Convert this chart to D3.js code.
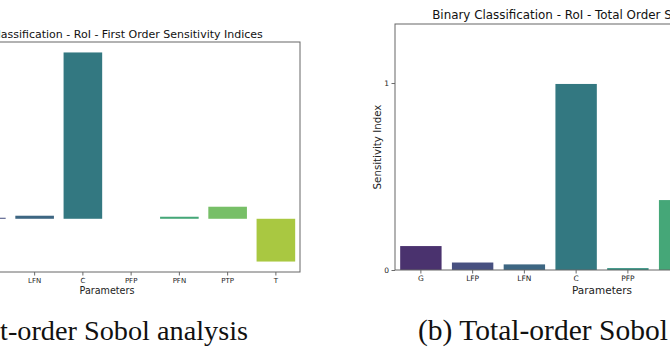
<!DOCTYPE html>
<html><head><meta charset="utf-8">
<script src="https://cdn.jsdelivr.net/npm/d3@7/dist/d3.min.js"></script>
<style>body{margin:0;background:#fff}svg{display:block}</style>
</head><body>
<svg id="c" width="670" height="360"></svg>
<script>
const categories = ["G","LFP","LFN","C","PFP","PFN","PTP","T"];
const firstOrder = [0.05, 0.006, 0.018, 0.98, 0.0, 0.012, 0.071, -0.252];
const totalOrder = [0.128, 0.04, 0.03, 0.995, 0.01, 0.374, 0.30, 1.253];
const totalTicks = [0, 1];
const titles = ["Binary Classification - RoI - First Order Sensitivity Indices",
                "Binary Classification - RoI - Total Order Sensitivity Indices"];
const captions = ["(a) First-order Sobol analysis", "(b) Total-order Sobol analysis"];

const svg = d3.select("#c");
const base = d3.range(8).map(i => d3.interpolateViridis((i + 1) / 9));
const colors = base.map(c => { const h = d3.hsl(c); h.s *= 0.75; return h.formatHex(); });
const spine = "#666";
const sans = "DejaVu Sans";

function fit(sel, target) {
  const fs = parseFloat(sel.attr("font-size"));
  const w = sel.node().getComputedTextLength();
  sel.attr("font-size", fs * target / w);
}
function measure(str, family, fs) {
  const p = svg.append("text").text(str).attr("font-family", family).attr("font-size", fs);
  const w = p.node().getComputedTextLength();
  p.remove();
  return w;
}

function panel(o) {
  const g = svg.append("g");
  const x = d3.scaleBand().domain(categories).range([o.left, o.right]).paddingInner(0.2).paddingOuter(0.1);
  const y = d3.scaleLinear().domain(o.domain).range([o.bottom, o.top]);
  g.selectAll("rect.bar").data(o.values).enter().append("rect")
    .attr("x", (d, i) => x(categories[i]))
    .attr("width", x.bandwidth())
    .attr("y", d => Math.min(y(d), y(0)))
    .attr("height", d => Math.abs(y(d) - y(0)))
    .attr("fill", (d, i) => colors[i]);
  const xa = g.append("g").attr("transform", `translate(0,${o.bottom})`)
    .call(d3.axisBottom(x).tickSize(3.5).tickSizeOuter(0).tickPadding(2.5));
  xa.select(".domain").remove();
  xa.selectAll("line").attr("stroke", "#444").attr("stroke-width", 0.8);
  xa.selectAll("text").attr("font-family", sans).attr("font-size", o.tickFs).attr("fill", "#222");
  const ya = g.append("g").attr("transform", `translate(${o.left},0)`)
    .call(d3.axisLeft(y).tickValues(o.ticks).tickFormat(d3.format("d")).tickSize(3.5).tickSizeOuter(0).tickPadding(2.5));
  ya.select(".domain").remove();
  ya.selectAll("line").attr("stroke", "#444").attr("stroke-width", 0.8);
  ya.selectAll("text").attr("font-family", sans).attr("font-size", o.tickFs).attr("fill", "#222");
  g.append("rect").attr("x", o.left).attr("y", o.top).attr("width", o.right - o.left).attr("height", o.bottom - o.top)
    .attr("fill", "none").attr("stroke", spine).attr("stroke-width", 1);
  const t = g.append("text").text(o.title).attr("x", (o.left + o.right) / 2).attr("y", o.titleY)
    .attr("text-anchor", "middle").attr("font-family", sans).attr("font-size", 10).attr("fill", "#111");
  fit(t, o.titleW);
  const xl = g.append("text").text("Parameters").attr("x", (o.left + o.right) / 2).attr("y", 294)
    .attr("text-anchor", "middle").attr("font-family", sans).attr("font-size", 10).attr("fill", "#222");
  fit(xl, o.xlabW);
  const yl = g.append("text").text("Sensitivity Index")
    .attr("transform", `translate(${o.left - 14},${(o.top + o.bottom) / 2}) rotate(-90)`)
    .attr("text-anchor", "middle").attr("font-family", sans).attr("font-size", 10).attr("fill", "#222");
  fit(yl, o.ylabW);
}

const fMin = d3.min(firstOrder), fMax = d3.max(firstOrder), fr = fMax - fMin;
panel({ left: -86, right: 300, top: 42, bottom: 272, values: firstOrder,
  domain: [fMin - 0.05 * fr, fMax + 0.05 * fr], ticks: [-0.2, 0, 0.2, 0.4, 0.6, 0.8],
  title: titles[0], titleY: 38, titleW: 312, xlabW: 55, ylabW: 80, tickFs: 7 });
panel({ left: 395, right: 809, top: 24, bottom: 270, values: totalOrder,
  domain: [0, d3.max(totalOrder) * 1.05], ticks: totalTicks,
  title: titles[1], titleY: 19, titleW: 340, xlabW: 60, ylabW: 85, tickFs: 7.5 });

const serif = "Liberation Serif";
const fs1 = 24 * 248 / measure("t-order Sobol analysis", serif, 24);
const fs2 = 24 * 250 / measure("(b) Total-order Sobol", serif, 24);
svg.append("text").text(captions[0]).attr("x", 248).attr("y", 340)
  .attr("text-anchor", "end").attr("font-family", serif).attr("font-size", fs1).attr("fill", "#111");
svg.append("text").text(captions[1]).attr("x", 418).attr("y", 340)
  .attr("font-family", serif).attr("font-size", fs2).attr("fill", "#111");
</script>
</body></html>
